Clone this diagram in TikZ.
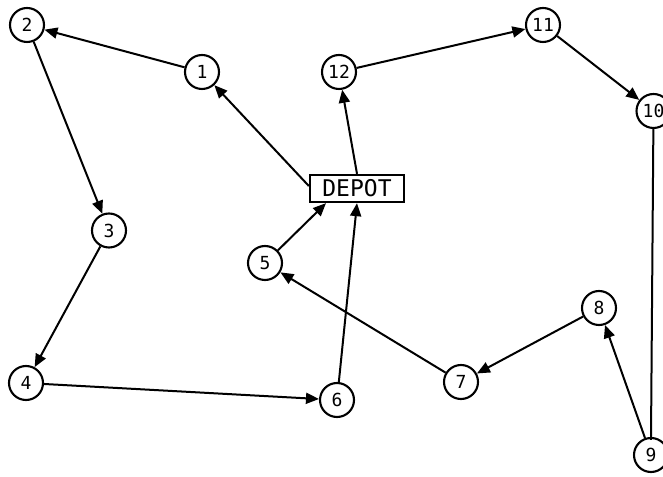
\documentclass[tikz,border=0pt]{standalone}
\usepackage{fontspec}
\newfontfamily\routefont{DejaVu Sans Mono}
\usetikzlibrary{arrows.meta}
\begin{document}
\begin{tikzpicture}[x=1pt,y=1pt,
  stop/.style={circle,draw,line width=2.1pt,fill=white,minimum size=34pt,inner sep=0pt,
    font=\routefont\fontsize{18}{18}\selectfont},
  depotbox/.style={rectangle,draw,line width=2.3pt,fill=white,minimum width=94pt,minimum height=27pt,
    inner sep=0pt,font=\routefont\fontsize{23}{23}\selectfont},
  leg/.style={line width=2pt,-{Triangle[length=13pt,width=11pt]}},
  plainleg/.style={line width=2pt}]
\useasboundingbox (0,0) rectangle (663,476);
% route stops
\node[depotbox] (D) at (357,287.5) {DEPOT};
\node[stop] (n1) at (202,404) {1};
\node[stop] (n2) at (27,451) {2};
\node[stop] (n3) at (109,245.5) {3};
\node[stop] (n4) at (26,93) {4};
\node[stop] (n5) at (265,213) {5};
\node[stop] (n6) at (337,76) {6};
\node[stop] (n7) at (461,94) {7};
\node[stop] (n8) at (599,168) {8};
\node[stop] (n9) at (651,21) {9};
\node[stop] (n10) at (653.5,365) {10};
\node[stop] (n11) at (543,451) {11};
\node[stop] (n12) at (339,404) {12};
% first tour
\draw[leg] ([yshift=2.5pt]D.west) -- (n1);
\draw[leg] (n1) -- (n2);
\draw[leg] (n2) -- (n3);
\draw[leg] (n3) -- (n4);
\draw[leg] (n4) -- (n6);
\draw[leg] (n6) -- (D.south);
% second tour
\draw[leg] (D.north) -- (n12);
\draw[leg] (n12) -- (n11);
\draw[leg] (n11) -- (n10);
\draw[plainleg,shorten >=-3pt] (n10) -- (n9.north);
\draw[leg] (n9) -- (n8);
\draw[leg] (n8) -- (n7);
\draw[leg] (n7) -- (n5);
\draw[leg] (n5) -- ([xshift=-31pt]D.south);
\end{tikzpicture}
\end{document}
